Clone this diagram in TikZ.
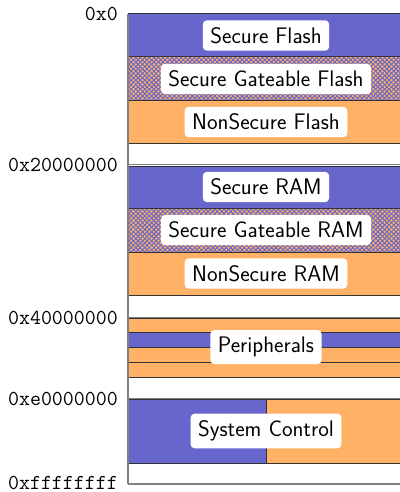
\documentclass[tikz,border=0pt]{standalone}
\usetikzlibrary{patterns.meta}
\definecolor{secblue}{RGB}{102,102,204}
\definecolor{nsorange}{RGB}{255,178,102}
\definecolor{framegray}{RGB}{128,128,128}
\begin{document}
\begin{tikzpicture}[x=1pt,y=-1pt,
  frame/.style={draw=framegray,line width=1.2pt},
  blk/.style={draw=black!80,line width=1pt},
  sec/.style={blk,fill=secblue},
  nsec/.style={blk,fill=nsorange},
  gate/.style={blk,fill=nsorange,
    postaction={pattern={Lines[angle=45,distance=3.2pt,line width=1pt]},pattern color=secblue},
    postaction={pattern={Lines[angle=-45,distance=3.2pt,line width=1pt]},pattern color=secblue},
    postaction={draw=black!80,line width=1pt}},
  lbl/.style={fill=white,rounded corners=4pt,inner xsep=7.5pt,inner ysep=7pt,
    font=\sffamily\fontsize{22.5}{26}\selectfont},
  addr/.style={anchor=east,inner sep=0pt,font=\ttfamily\fontsize{21.3}{25}\selectfont}]
\useasboundingbox (0,0) rectangle (399,492);

% address axis
\coordinate (a0) at (128,14);
\coordinate (a2) at (128,164.5);
\coordinate (a4) at (128,318);
\coordinate (ae) at (128,399);
\coordinate (af) at (128,484);
\foreach \c in {a0,a2,a4,ae,af}
  \draw[frame] (\c) -- ++(280,0);

% flash region
\draw[sec]  (128,14)  rectangle (404,57);
\draw[gate] (128,57)  rectangle (404,101);
\draw[nsec] (128,101) rectangle (404,143);
\node[lbl] (sflash)  at (266,35.5) {Secure Flash};
\node[lbl] (sgflash) at (266,79)   {Secure Gateable Flash};
\node[lbl] (nsflash) at (266,122)  {NonSecure Flash};

% RAM region
\draw[sec]  (128,166) rectangle (404,208);
\draw[gate] (128,208) rectangle (404,252);
\draw[nsec] (128,252) rectangle (404,295);
\node[lbl] (sram)  at (266,187) {Secure RAM};
\node[lbl] (sgram) at (266,230) {Secure Gateable RAM};
\node[lbl] (nsram) at (266,273.5) {NonSecure RAM};

% peripherals
\draw[nsec] (128,318) rectangle (404,332);
\draw[sec]  (128,332) rectangle (404,347);
\draw[nsec] (128,347) rectangle (404,362);
\draw[nsec] (128,362) rectangle (404,377);
\node[lbl] (periph) at (266,347) {Peripherals};

% system control
\draw[sec]  (128,399) rectangle (266,463);
\draw[nsec] (266,399) rectangle (404,463);
\node[lbl] (sysctl) at (266,431) {System Control};

% left edge of the map
\draw[frame] (a0) -- (af);

% address labels
\node[addr] (l0) at (118,14)    {0x0};
\node[addr] (l2) at (118,164.5) {0x20000000};
\node[addr] (l4) at (118,318)   {0x40000000};
\node[addr] (le) at (118,399)   {0xe0000000};
\node[addr] (lf) at (118,483)   {0xffffffff};
\end{tikzpicture}
\end{document}
